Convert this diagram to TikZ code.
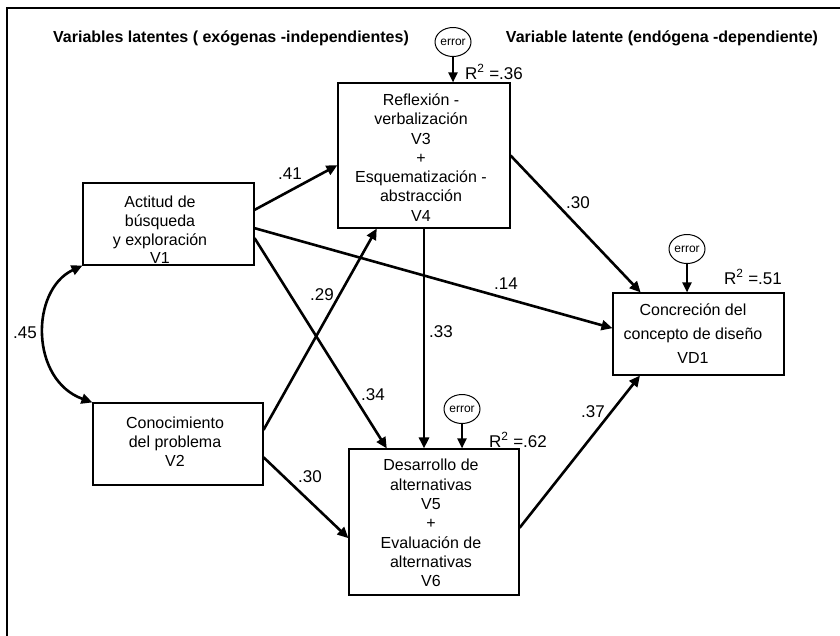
\documentclass[tikz,border=0pt]{standalone}
\usepackage{fontspec}
\setmainfont{Liberation Sans}
\usetikzlibrary{arrows.meta,calc,shapes.geometric}
\begin{document}
\begin{tikzpicture}[x=1pt,y=-1pt,
  box/.style={draw,line width=1.1pt,inner sep=0pt},
  txt/.style={align=center,inner sep=0pt,font=\fontsize{16}{19.3}\selectfont},
  arr/.style={line width=2.6pt,-{Triangle[length=11pt,width=10pt]}},
  dbl/.style={line width=2.6pt,{Triangle[length=11pt,width=10pt]}-{Triangle[length=11pt,width=10pt]}},
  errarr/.style={line width=2.2pt,-{Triangle[length=10pt,width=9pt]}},
  lbl/.style={inner sep=0pt,font=\fontsize{17}{17}\selectfont},
  err/.style={draw,ellipse,line width=1pt,minimum width=36pt,minimum height=29pt,inner sep=0pt,font=\fontsize{12}{12}\selectfont},
  head/.style={inner sep=0pt,font=\fontsize{16}{16}\selectfont\bfseries}]
\useasboundingbox (0,0) rectangle (840,635);
\fill[white] (0,0) rectangle (840,635);
\draw[line width=1.2pt] (7,640) -- (7,8) -- (845,8);

\node[head] (h1) at (231,38) {Variables latentes ( exógenas -independientes)};
\node[head] (h2) at (662,38) {Variable latente (endógena -dependiente)};

% boxes
\node[box,minimum width=171pt,minimum height=82pt] (v1) at (168.5,224) {};
\node[txt,font=\fontsize{16}{18.7}\selectfont] (t1) at (160,230) {Actitud de\\búsqueda\\y exploración\\V1};
\node[box,minimum width=170pt,minimum height=82pt] (v2) at (178,444) {};
\node[txt,font=\fontsize{16}{19}\selectfont] (t2) at (175,442) {Conocimiento\\del problema\\V2};
\node[box,minimum width=172pt,minimum height=145pt] (v3) at (424,155.5) {};
\node[txt] (t3) at (421,157.5) {Reflexión -\\verbalización\\V3\\+\\Esquematización -\\abstracción\\V4};
\node[box,minimum width=170pt,minimum height=146pt] (v5) at (434,522) {};
\node[txt] (t5) at (431,523) {Desarrollo de\\alternativas\\V5\\+\\Evaluación de\\alternativas\\V6};
\node[box,minimum width=171pt,minimum height=82pt] (vd) at (698.5,334) {};
\node[txt,font=\fontsize{16}{24}\selectfont] (t6) at (693,334) {Concreción del\\concepto de diseño\\VD1};

% error terms
\node[err] (e1) at (453,42) {error};
\node[err] (e2) at (462,409) {error};
\node[err] (e3) at (687,249) {error};
\draw[errarr] (e1.south) -- (e1.south |- v3.north);
\draw[errarr] (e2.south) -- (e2.south |- v5.north);
\draw[errarr] (e3.south) -- (e3.south |- vd.north);

% paths
\draw[arr] ($(v1.north east)!0.33!(v1.south east)$) -- ($(v3.north west)!0.566!(v3.south west)$);
\draw[arr] ($(v1.north east)!0.55!(v1.south east)$) -- ($(vd.north west)!0.43!(vd.south west)$);
\draw[arr] ($(v1.north east)!0.67!(v1.south east)$) -- ($(v5.north west)!0.224!(v5.north east)$);
\draw[arr] ($(v2.north east)!0.33!(v2.south east)$) -- ($(v3.south west)!0.227!(v3.south east)$);
\draw[arr] ($(v2.north east)!0.66!(v2.south east)$) -- ($(v5.north west)!0.61!(v5.south west)$);
\draw[arr] (v3.south) -- (v3.south |- v5.north);
\draw[arr] (v3.east) -- ($(vd.north west)!0.164!(vd.north east)$);
\draw[arr] ($(v5.north east)!0.54!(v5.south east)$) -- ($(vd.south west)!0.16!(vd.south east)$);
\draw[dbl] (v1.south west) .. controls (30,290) and (30,380) .. (v2.north west);

% coefficients
\node[lbl] (l41) at (290,174) {.41};
\node[lbl] (l14) at (506,284) {.14};
\node[lbl] (l34) at (373,395) {.34};
\node[lbl] (l29) at (322,295) {.29};
\node[lbl] (l30a) at (310,477) {.30};
\node[lbl] (l33) at (441,332) {.33};
\node[lbl] (l30b) at (578,203) {.30};
\node[lbl] (l37) at (593,412) {.37};
\node[lbl] (l45) at (25,333) {.45};
\node[lbl] (r1) at (494,72) {R\textsuperscript{2} =.36};
\node[lbl] (r2) at (518,440) {R\textsuperscript{2} =.62};
\node[lbl] (r3) at (753,277) {R\textsuperscript{2} =.51};
\end{tikzpicture}
\end{document}
